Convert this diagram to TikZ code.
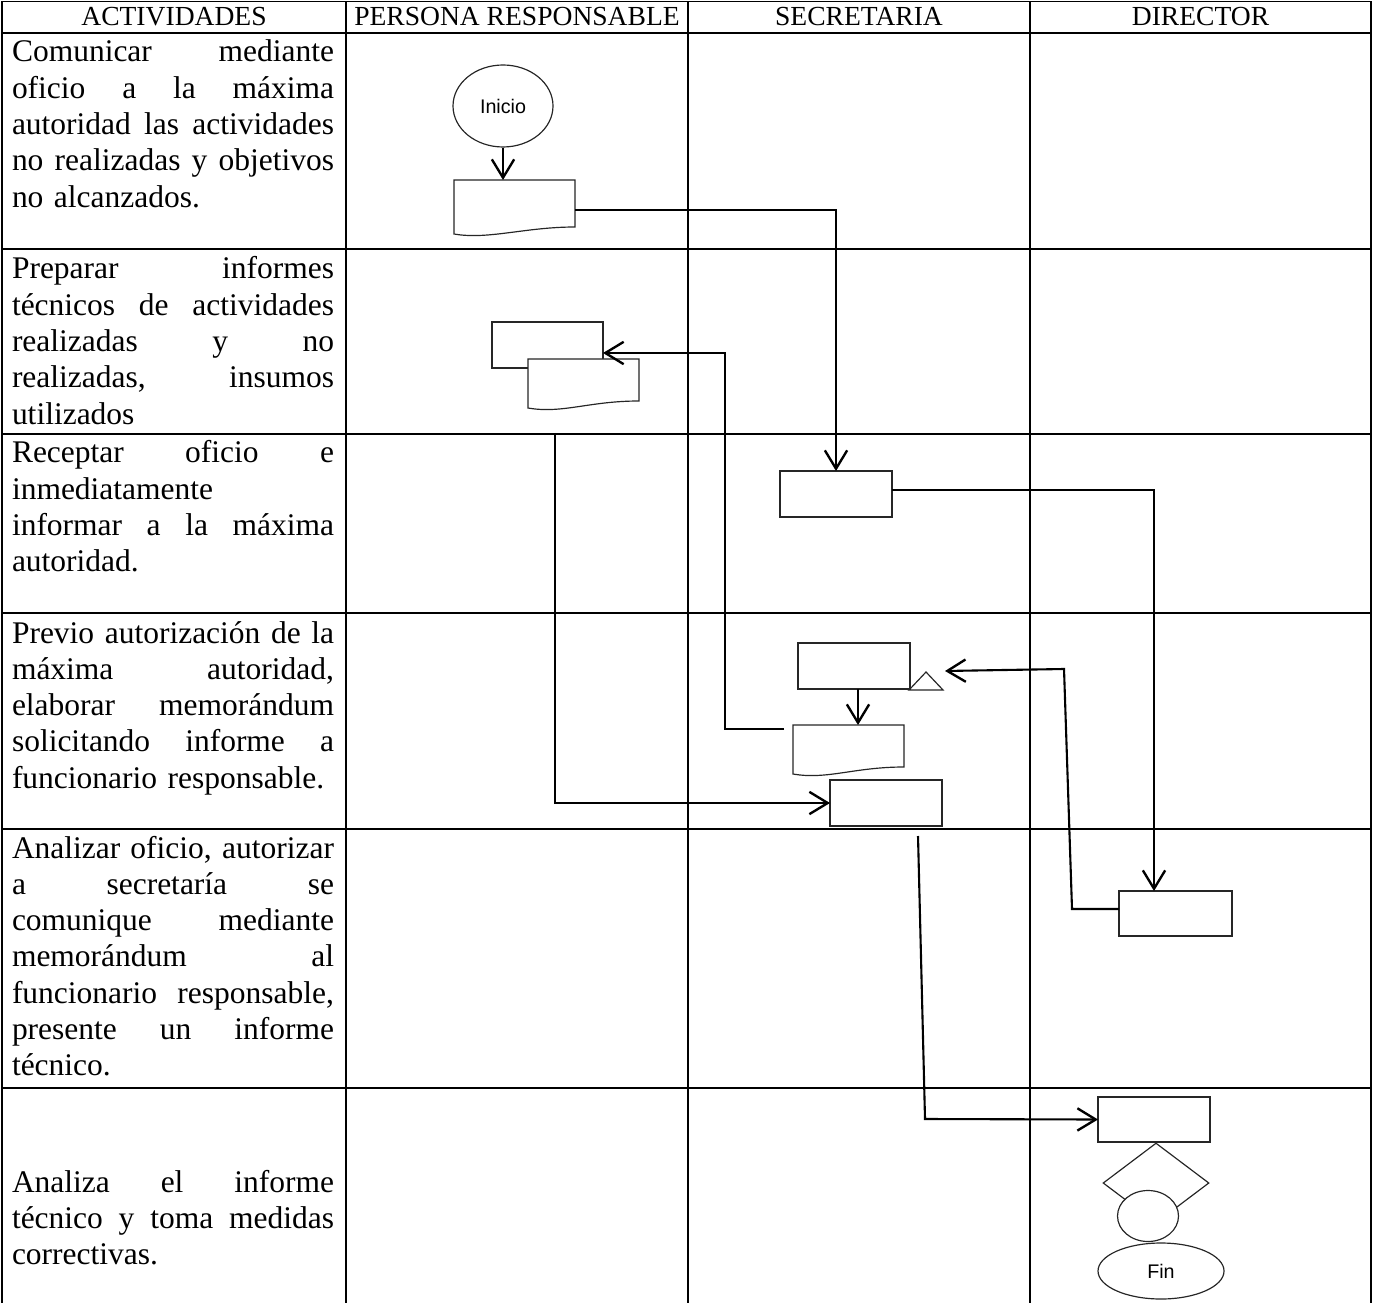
\documentclass[tikz,border=0pt]{standalone}
\usepackage{fontspec}
\setmainfont{Liberation Serif}
\newfontfamily\arialf{Liberation Sans}
\usetikzlibrary{shapes.geometric,arrows.meta,calc}
\setlength{\parskip}{0pt}
\newcommand\jline[1]{\noindent\hbox to \hsize{\spaceskip=0pt \xspaceskip=0pt #1}\par}
\newcommand\lline[1]{\noindent #1\par}
\newcommand\fst{\rule{0pt}{10pt}}
\newcommand\docoutline[1]{\draw[shp] (#1.north west) -- (#1.north east) -- (#1.south east) .. controls +(-50,0) and +(34,6) .. ([yshift={-7*0.381pt}]#1.south west) -- cycle;}
\begin{document}
\begin{tikzpicture}[x=0.381pt,y=-0.381pt,
  grid/.style={line width=0.75pt},
  shp/.style={draw=black!85, line width=0.45pt, fill=white},
  conn/.style={line width=0.8pt},
  arr/.style={conn,-{Straight Barb[length=7pt,width=8.5pt,line width=0.9pt]}},
  boxn/.style 2 args={shp, rectangle, inner sep=0pt, outer sep=0pt, minimum width={#1*0.381pt}, minimum height={#2*0.381pt}},
  docn/.style 2 args={rectangle, inner sep=0pt, outer sep=0pt, minimum width={#1*0.381pt}, minimum height={#2*0.381pt}},
  hdr/.style={anchor=base, inner sep=0pt, font=\fontsize{10.5pt}{12pt}\selectfont},
  act/.style={anchor=north west, inner sep=0pt, outer sep=0pt, text width={322*0.381pt}, align=left, font=\fontsize{12pt}{13.83pt}\selectfont},
  term/.style={shp, ellipse, inner sep=0pt, font=\arialf\fontsize{7.5pt}{9pt}\selectfont}
]
\useasboundingbox (0,0) rectangle (1373,1303);

% table grid
\foreach \yy in {1.5,33,249,434,613,829,1088}
  \draw[grid] (2,\yy) -- (1371,\yy);
\foreach \xx in {2,346,688,1030,1371}
  \draw[grid] (\xx,1.5) -- (\xx,1303);

% headers
\node[hdr] (h1) at (174,26) {ACTIVIDADES};
\node[hdr] (h2) at (517,26) {PERSONA RESPONSABLE};
\node[hdr] (h3) at (859,26) {SECRETARIA};
\node[hdr] (h4) at (1200.5,26) {DIRECTOR};

% activities text (node top = first baseline - 26.25px)
\node[act] (a1) at (12,35.75) {\jline{\fst Comunicar mediante}\jline{oficio a la máxima}\jline{autoridad las actividades}\jline{no realizadas y objetivos}\lline{no alcanzados.}};
\node[act] (a2) at (12,252.75) {\jline{\fst Preparar informes}\jline{técnicos de actividades}\jline{realizadas y no}\jline{realizadas, insumos}\lline{utilizados}};
\node[act] (a3) at (12,436.75) {\jline{\fst Receptar oficio e}\lline{inmediatamente}\jline{informar a la máxima}\lline{autoridad.}};
\node[act] (a4) at (12,616.75) {\jline{\fst Previo autorización de la}\jline{máxima autoridad,}\jline{elaborar memorándum}\jline{solicitando informe a}\lline{funcionario responsable.}};
\node[act] (a5) at (12,831.75) {\jline{\fst Analizar oficio, autorizar}\jline{a secretaría se}\jline{comunique mediante}\jline{memorándum al}\jline{funcionario responsable,}\jline{presente un informe}\lline{técnico.}};
\node[act] (a6) at (12,1165.75) {\jline{\fst Analiza el informe}\jline{técnico y toma medidas}\lline{correctivas.}};

% persona responsable
\node[term, minimum width={100*0.381pt}, minimum height={82*0.381pt}] (inicio) at (503,106) {Inicio};
\node[docn={121}{47}] (doc1) at (514.5,203.5) {};
\docoutline{doc1}
\node[boxn={111}{46}] (P1) at (547.5,345) {};
\node[docn={111}{42}] (P2) at (583.5,380) {};
\docoutline{P2}

% secretaria
\node[boxn={112}{46}] (S1) at (836,494) {};
\node[boxn={112}{46}] (S2) at (854,666) {};
\draw[shp] (909,690) -- (943,690) -- (926,672) -- cycle;
\coordinate (tri) at (926,684);
\node[docn={111}{42}] (S3) at (848.5,746) {};
\docoutline{S3}
\node[boxn={112}{46}] (S4) at (886,803) {};

% director
\node[boxn={113}{45}] (D1) at (1175.5,913.5) {};
\node[boxn={112}{45}] (D2) at (1154,1119.5) {};
\node[shp, diamond, inner sep=0pt, minimum width={106*0.381pt}, minimum height={80*0.381pt}] (dec) at (1156,1183) {};
\node[shp, ellipse, inner sep=0pt, minimum width={61*0.381pt}, minimum height={51*0.381pt}] (circ) at (1148,1216) {};
\node[term, minimum width={126*0.381pt}, minimum height={56*0.381pt}] (fin) at (1161,1271) {Fin};

% connectors
\coordinate (m3) at (784,729);
\coordinate (m4) at (555,433);
\coordinate (m8) at (918,836);
\coordinate (trin) at (945,671);

\draw[arr] (inicio.south) -- (inicio.south |- doc1.north);
\draw[arr] (doc1.east |- 0,210) -| (S1.north);
\draw[arr] (m3) -- (725,729) -- (725,353) -- (P1.east |- 0,353);
\draw[arr] (m4) |- (S4.west);
\draw[arr] (S1.east |- 0,490) -- (1154,490) -- (D1.north -| 1154,0);
\draw[arr] (D1.west |- 0,909) -- (1072,909) -- (1064,669) -- (trin);
\draw[arr] (S2.south -| 858,0) -- (S3.north -| 858,0);
\draw[arr] (m8) -- (925,1119) -- (D2.west);
\end{tikzpicture}
\end{document}
